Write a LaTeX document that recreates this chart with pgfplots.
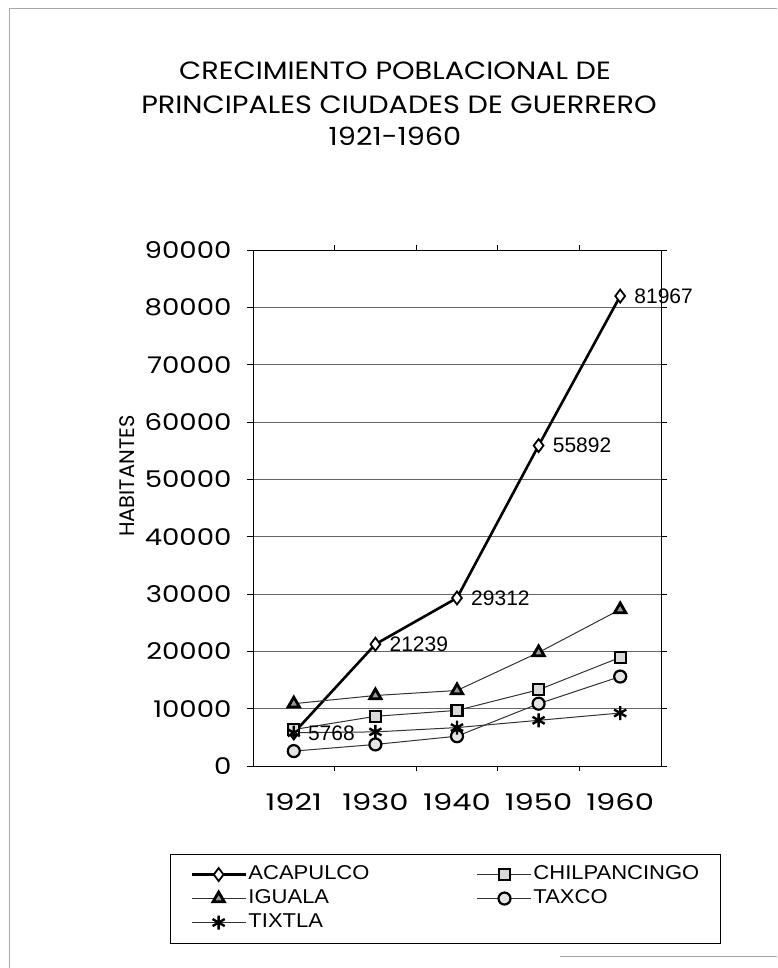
\documentclass[border=0pt]{standalone}
\usepackage{fontspec}
\setmainfont{Poppins}
\newfontfamily\lab{Liberation Sans}
\newfontfamily\legfont{Liberation Sans}[FakeStretch=1.1]
\newfontfamily\xtickfont{Poppins}[FakeStretch=1.33]
\newfontfamily\ytickfont{Poppins}[FakeStretch=1.2]
\newfontfamily\titlefont{Poppins}[FakeStretch=1.15]
\usepackage{pgfplots}
\pgfplotsset{compat=1.18}
\usetikzlibrary{calc}
\begin{document}
\begin{tikzpicture}
\begin{axis}[
  scale only axis, width=408pt, height=516pt,
  xmin=-0.5, xmax=4.5, ymin=0, ymax=90000,
  xtick={0,1,2,3,4},
  xticklabels={1921,1930,1940,1950,1960},
  minor x tick num=1,
  ytick={0,10000,20000,30000,40000,50000,60000,70000,80000,90000},
  yticklabels={0,10000,20000,30000,40000,50000,60000,70000,80000,90000},
  scaled y ticks=false,
  tick align=outside,
  major tick length=6pt, minor tick length=5pt,
  major x tick style={draw=none},
  minor x tick style={black, line width=0.8pt},
  ytick style={black, line width=0.8pt},
  ymajorgrids, grid style={black!60, line width=0.6pt},
  axis line style={black, line width=0.9pt},
  xticklabel style={yshift=-18pt, font=\xtickfont\fontsize{23}{28}\selectfont},
  yticklabel style={xshift=-12pt, font=\ytickfont\fontsize{23}{28}\selectfont},
  clip=false,
  legend columns=2,
  legend cell align=left,
  legend style={at={(-0.2034,-0.17)}, anchor=north west,
    draw=black, line width=0.7pt, inner xsep=20pt, inner ysep=10pt,
    font=\legfont\fontsize{20}{24}\selectfont,
    nodes={inner sep=1.5pt, text height=14pt, text depth=4pt},
    /tikz/every even column/.append style={column sep=106pt},
    row sep=3pt},
  legend image code/.code={\draw[mark repeat=2,mark phase=2] plot coordinates {(0pt,0pt) (27pt,0pt) (54pt,0pt)};},
]
\coordinate (O) at (rel axis cs:0,0);
\addplot[black, line width=2.6pt, mark=diamond*, mark size=6.5pt,
  mark options={fill=white, line width=1.8pt, solid},
  nodes near coords, point meta=explicit symbolic,
  every node near coord/.append style={anchor=west, xshift=10pt, black, font=\lab\fontsize{21}{24}\selectfont}]
  coordinates {(0,5768)[5768] (1,21239)[21239] (2,29312)[29312] (3,55892)[55892] (4,81967)[81967]};
\addlegendentry{ACAPULCO}
\addplot[black!80, line width=1pt, mark=square*, mark size=5.5pt,
  mark options={fill=black!15, draw=black, line width=2.2pt, solid}]
  coordinates {(0,6360) (1,8670) (2,9700) (3,13300) (4,18940)};
\addlegendentry{CHILPANCINGO}
\addplot[black!80, line width=1pt, mark=triangle*, mark size=6.5pt,
  mark options={fill=black!40, draw=black, line width=2.8pt, solid}]
  coordinates {(0,10870) (1,12300) (2,13170) (3,19800) (4,27300)};
\addlegendentry{IGUALA}
\addplot[black!80, line width=1pt, mark=*, mark size=6pt,
  mark options={fill=black!10, draw=black, line width=2.2pt, solid}]
  coordinates {(0,2600) (1,3760) (2,5200) (3,10870) (4,15600)};
\addlegendentry{TAXCO}
\addplot[black!80, line width=1pt, mark=asterisk, mark size=7pt,
  mark options={draw=black, line width=2.4pt, solid}]
  coordinates {(0,5800) (1,5950) (2,6700) (3,7970) (4,9240)};
\addlegendentry{TIXTLA}
\end{axis}
\pgfresetboundingbox
\path[use as bounding box] ($(O)+(-253pt,-202pt)$) rectangle ($(O)+(524pt,766pt)$);
\draw[black!35, line width=0.7pt] ($(O)+(-244pt,-202pt)$) -- ($(O)+(-244pt,758pt)$) -- ($(O)+(524pt,758pt)$);
\draw[black!35, line width=0.7pt] ($(O)+(307pt,-190pt)$) -- ($(O)+(524pt,-190pt)$);
\node[font=\titlefont\fontsize{25}{30}\selectfont] at ($(O)+(142pt,695pt)$) {CRECIMIENTO POBLACIONAL DE};
\node[font=\titlefont\fontsize{25}{30}\selectfont] at ($(O)+(146pt,661pt)$) {PRINCIPALES CIUDADES DE GUERRERO};
\node[font=\titlefont\fontsize{25}{30}\selectfont] at ($(O)+(142pt,630pt)$) {1921-1960};
\node[rotate=90, font=\fontsize{21}{24}\selectfont] at ($(O)+(-126pt,290pt)$) {HABITANTES};
\end{tikzpicture}
\end{document}
